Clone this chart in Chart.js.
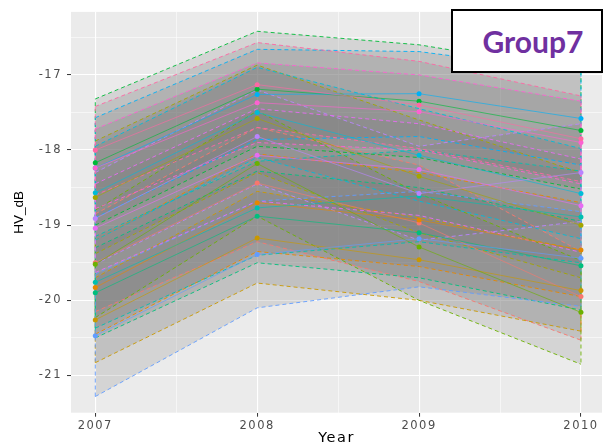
<!DOCTYPE html>
<html>
<head>
<meta charset="utf-8">
<script src="https://cdn.jsdelivr.net/npm/chart.js@4/dist/chart.umd.min.js"></script>
<style>
html, body { margin: 0; padding: 0; background: #ffffff; overflow: hidden; }
#wrap { position: relative; width: 606px; height: 448px; }
#box {
  position: absolute; left: 451px; top: 9px; width: 152px; height: 64px;
  box-sizing: border-box; border: 2px solid #000; background: #fff;
  display: flex; align-items: center; justify-content: center; padding-left: 12px;
  font: bold 30px Lato, "Open Sans", sans-serif; color: #7030A0;
}
</style>
</head>
<body>
<div id="wrap">
  <canvas id="c" width="606" height="448"></canvas>
  <div id="box">Group7</div>
</div>
<script>
// ---- data ----
const years = [2007, 2008, 2009, 2010];
const groupNames = ['G01','G02','G03','G04','G05','G06','G07','G08','G09','G10','G11','G12','G13','G14','G15'];
const seriesColors = ['#F8766D','#E58700','#C99800','#A3A500','#6BB100','#00BA38','#00BF7D','#00C0AF',
                      '#00BCD8','#00B0F6','#619CFF','#B983FF','#E76BF3','#FD61D1','#FF67A4'];
const hvMean = [
  [-19.50, -18.44, -18.97, -19.95],
  [-19.83, -18.70, -18.93, -19.33],
  [-20.26, -19.17, -19.46, -19.87],
  [-18.63, -17.58, -18.35, -19.00],
  [-19.52, -18.18, -19.29, -20.16],
  [-18.17, -17.19, -17.35, -17.74],
  [-19.90, -18.88, -19.10, -19.54],
  [-19.76, -18.77, -18.61, -18.89],
  [-18.57, -17.50, -18.07, -18.58],
  [-18.24, -17.26, -17.25, -17.58],
  [-20.47, -19.39, -19.18, -19.44],
  [-18.91, -17.82, -18.58, -18.30],
  [-19.04, -18.07, -18.26, -18.74],
  [-18.24, -17.37, -17.49, -17.90],
  [-18.00, -17.13, -17.40, -17.85]
];
const hvUpper = [
  [-18.85, -17.70, -18.20, -19.35],
  [-19.20, -18.05, -18.30, -18.70],
  [-19.70, -18.55, -18.90, -19.33],
  [-17.88, -16.87, -17.60, -18.30],
  [-18.80, -17.48, -18.58, -19.47],
  [-17.32, -16.42, -16.60, -16.95],
  [-19.30, -18.28, -18.50, -18.95],
  [-19.15, -18.15, -18.00, -18.28],
  [-17.95, -16.90, -17.45, -17.98],
  [-17.57, -16.66, -16.69, -16.97],
  [-19.65, -18.68, -18.55, -18.82],
  [-18.30, -17.20, -17.95, -17.65],
  [-18.45, -17.45, -17.65, -18.12],
  [-17.72, -16.84, -17.00, -17.35],
  [-17.42, -16.57, -16.82, -17.28]
];
const hvLower = [
  [-20.15, -19.22, -19.75, -20.53],
  [-20.45, -19.35, -19.55, -19.95],
  [-20.83, -19.77, -20.00, -20.41],
  [-19.38, -18.30, -19.10, -19.70],
  [-20.23, -18.88, -20.00, -20.85],
  [-19.00, -17.95, -18.10, -18.52],
  [-20.50, -19.50, -19.70, -20.13],
  [-20.37, -19.40, -19.22, -19.50],
  [-19.20, -18.10, -18.68, -19.18],
  [-18.90, -17.86, -17.82, -18.20],
  [-21.28, -20.10, -19.82, -20.08],
  [-19.52, -18.45, -19.20, -18.95],
  [-19.63, -18.68, -18.87, -19.36],
  [-18.78, -17.90, -18.00, -18.45],
  [-18.60, -17.70, -17.98, -18.42]
];
const yMajorTicks = [-21, -20, -19, -18, -17];
const yMinorTicks = [-20.5, -19.5, -18.5, -17.5, -16.5];
const xMinorTicks = [2007.5, 2008.5, 2009.5];

// ---- styling ----
const ribbonFill = 'rgba(120,120,120,0.2)';
const dash = [4, 3];
const muted = hex => hex + 'C8';

const datasets = [];
for (let s = hvMean.length - 1; s >= 0; s--) {
  const c = seriesColors[s];
  datasets.push({
    label: groupNames[s],
    data: years.map((x, i) => ({ x, y: hvMean[s][i] })),
    borderColor: muted(c), backgroundColor: c, borderWidth: 0.8,
    pointRadius: 2.5, pointBorderWidth: 0, pointBackgroundColor: c,
    fill: false, order: 0, tension: 0
  });
}
for (let s = hvMean.length - 1; s >= 0; s--) {
  const c = seriesColors[s];
  datasets.push({
    label: groupNames[s] + ' upper',
    data: years.map((x, i) => ({ x, y: hvUpper[s][i] })),
    borderColor: c, borderDash: dash, borderWidth: 0.9, pointRadius: 0,
    fill: '+1', backgroundColor: ribbonFill, order: 1
  });
  datasets.push({
    label: groupNames[s] + ' lower',
    data: years.map((x, i) => ({ x, y: hvLower[s][i] })),
    borderColor: c, borderDash: dash, borderWidth: 0.9, pointRadius: 0,
    fill: false, order: 1
  });
  const last = years.length - 1;
  datasets.push({
    label: groupNames[s] + ' edges',
    data: [
      { x: years[0], y: hvLower[s][0] }, { x: years[0], y: hvUpper[s][0] },
      { x: years[1], y: null },
      { x: years[last], y: hvUpper[s][last] }, { x: years[last], y: hvLower[s][last] }
    ],
    borderColor: c, borderDash: dash, borderWidth: 0.9, pointRadius: 0,
    fill: false, spanGaps: false, order: 1
  });
}

const panelBg = {
  id: 'panelBg',
  beforeDraw(chart) {
    const { ctx, chartArea: { left, top, width, height } } = chart;
    ctx.save();
    ctx.fillStyle = '#EBEBEB';
    ctx.fillRect(left, top, width, height);
    ctx.restore();
  }
};
const textStretch = {
  id: 'textStretch',
  beforeDraw(chart) {
    const ctx = chart.ctx;
    if (ctx.__patched) return;
    const orig = ctx.fillText;
    ctx.fillText = function (t, x, y, w) {
      const m = this.getTransform();
      try { this.letterSpacing = Math.abs(m.b) > 0.5 ? '0px' : '1.5px'; } catch (e) {}
      return w === undefined ? orig.call(this, t, x, y) : orig.call(this, t, x, y, w);
    };
    ctx.__patched = true;
  }
};

const isMajorX = v => years.includes(v);
const isMajorY = v => yMajorTicks.includes(v);

new Chart(document.getElementById('c'), {
  type: 'line',
  data: { datasets },
  plugins: [panelBg, textStretch],
  options: {
    responsive: false,
    animation: false,
    layout: { padding: { top: 10, right: 0, bottom: 0, left: 0 } },
    plugins: {
      legend: { display: false },
      tooltip: { enabled: false },
      filler: { drawTime: 'beforeDatasetsDraw', propagate: false }
    },
    scales: {
      x: {
        type: 'linear', min: 2006.85, max: 2010.13,
        afterBuildTicks: s => { s.ticks = years.concat(xMinorTicks).sort((a, b) => a - b).map(v => ({ value: v })); },
        afterFit: s => { s.height = 35.3; },
        border: { display: false },
        grid: {
          color: '#FFFFFF',
          lineWidth: c => isMajorX(c.tick.value) ? 1.1 : 0.55,
          drawTicks: true, tickLength: 4, tickWidth: 1,
          tickColor: c => isMajorX(c.tick.value) ? '#333333' : 'rgba(0,0,0,0)'
        },
        ticks: {
          autoSkip: false, maxRotation: 0, minRotation: 0, padding: 2,
          color: '#4D4D4D', font: { family: 'DejaVu Sans', size: 11.5 },
          callback: v => isMajorX(v) ? String(v) : ''
        },
        title: { display: true, text: 'Year', color: '#000000',
                 font: { family: 'DejaVu Sans', size: 14.5 }, padding: { top: 0, bottom: 1 } }
      },
      y: {
        type: 'linear', min: -21.495, max: -16.162,
        afterBuildTicks: s => { s.ticks = yMajorTicks.concat(yMinorTicks).sort((a, b) => a - b).map(v => ({ value: v })); },
        afterFit: s => { s.width = 71; },
        border: { display: false },
        grid: {
          color: '#FFFFFF',
          lineWidth: c => isMajorY(c.tick.value) ? 1.1 : 0.55,
          drawTicks: true, tickLength: 4, tickWidth: 1,
          tickColor: c => isMajorY(c.tick.value) ? '#333333' : 'rgba(0,0,0,0)'
        },
        ticks: {
          autoSkip: false, padding: 5,
          color: '#4D4D4D', font: { family: 'DejaVu Sans', size: 11.5 },
          callback: v => isMajorY(v) ? String(v) : ''
        },
        title: { display: true, text: 'HV_dB', color: '#000000',
                 font: { family: 'Liberation Sans', size: 13.5 }, padding: { top: 11, bottom: 0 } }
      }
    }
  }
});
</script>
</body>
</html>
